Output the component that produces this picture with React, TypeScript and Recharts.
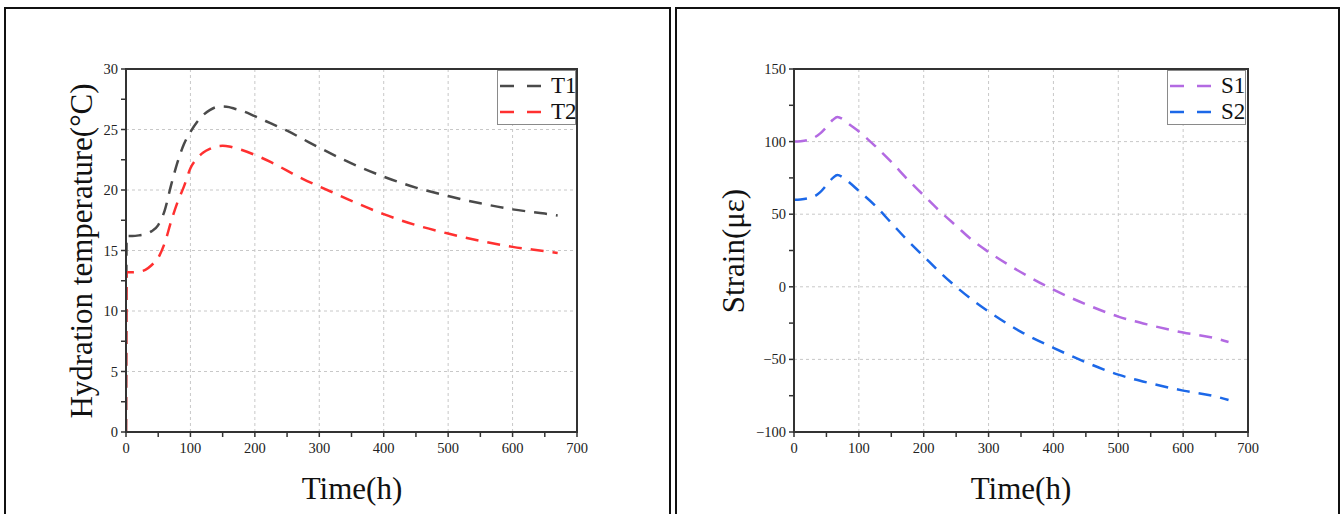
import React from 'react';
import { LineChart, Line, XAxis, YAxis, CartesianGrid, ReferenceArea } from 'recharts';

// ---------- Data ----------
const timeT = [0, 1, 10, 20, 30, 40, 50, 60, 70, 80, 90, 100, 110, 120, 130, 140, 150, 160, 170, 180, 200, 225, 250, 275, 300, 350, 400, 450, 500, 550, 600, 650, 670];
const T1 = [0, 16.2, 16.2, 16.25, 16.35, 16.6, 17.1, 18.3, 20.4, 22.3, 23.8, 24.8, 25.6, 26.2, 26.6, 26.85, 26.9, 26.85, 26.7, 26.55, 26.1, 25.5, 24.9, 24.2, 23.5, 22.2, 21.1, 20.2, 19.5, 18.9, 18.4, 18.05, 17.9];
const T2 = [0, 13.2, 13.2, 13.25, 13.4, 13.8, 14.4, 15.6, 17.4, 19.0, 20.3, 21.8, 22.6, 23.1, 23.4, 23.6, 23.65, 23.6, 23.45, 23.3, 22.9, 22.3, 21.6, 20.9, 20.3, 19.1, 18.0, 17.1, 16.4, 15.8, 15.3, 14.95, 14.8];

const timeS = [0, 10, 20, 30, 40, 50, 60, 67, 75, 85, 100, 125, 150, 175, 200, 225, 250, 275, 300, 350, 400, 450, 500, 550, 600, 650, 670];
const S1 = [100, 100.3, 101, 102.5, 105.5, 110, 115, 117, 115.5, 112, 107, 97, 86, 74, 63, 52, 42, 32, 24, 10, -2, -12, -20.5, -26.5, -31.5, -35.5, -38];
const S2 = [60, 60.2, 60.8, 62, 65, 70, 75, 77, 75.5, 72, 66, 56, 44, 32, 21, 10, 0, -9, -17, -31, -42, -52, -60.5, -66.5, -71.5, -75.5, -78];

const xTicks = [0, 50, 100, 150, 200, 250, 300, 350, 400, 450, 500, 550, 600, 650, 700];
const xGrid = [100, 200, 300, 400, 500, 600];
const tTicks = [0, 2.5, 5, 7.5, 10, 12.5, 15, 17.5, 20, 22.5, 25, 27.5, 30];
const tGrid = [5, 10, 15, 20, 25];
const sTicks = [-100, -75, -50, -25, 0, 25, 50, 75, 100, 125, 150];
const sGrid = [-50, 0, 50, 100];

const tSeries = [
  { key: 'T1', name: 'T1', color: '#4a4a4a', values: T1 },
  { key: 'T2', name: 'T2', color: '#ff3030', values: T2 },
];
const sSeries = [
  { key: 'S1', name: 'S1', color: '#b36ae2', values: S1 },
  { key: 'S2', name: 'S2', color: '#1c68e8', values: S2 },
];

const tData = timeT.map((t, i) => ({ t, T1: T1[i], T2: T2[i] }));
const sData = timeS.map((t, i) => ({ t, S1: S1[i], S2: S2[i] }));

const FONT = '"Liberation Serif", "Times New Roman", serif';
const axisLine = { stroke: '#333', strokeWidth: 2 };
const tickLine = { stroke: '#333', strokeWidth: 1.5 };

const fmtX = (v: number) => (v % 100 === 0 ? String(v) : '');
const fmtT = (v: number) => (v % 5 === 0 ? String(v) : '');
const fmtS = (v: number) => (v % 50 === 0 ? (v < 0 ? '\u2212' + Math.abs(v) : String(v)) : '');

const makeXTick = (fmt: (v: number) => string) => (props: any) => {
  const { x, y, payload } = props;
  const label = fmt(payload.value);
  if (!label) return <g />;
  return (
    <text x={x} y={y} dy="0.8em" textAnchor="middle" fill="#222" fontSize={14.5} fontFamily={FONT} style={{ fontFamily: FONT }}>{label}</text>
  );
};
const makeYTick = (fmt: (v: number) => string) => (props: any) => {
  const { x, y, payload } = props;
  const label = fmt(payload.value);
  if (!label) return <g />;
  return (
    <text x={x} y={y} dy="0.35em" textAnchor="end" fill="#222" fontSize={14.5} fontFamily={FONT} style={{ fontFamily: FONT }}>{label}</text>
  );
};

function LegendBox({ items, left, top }: { items: { name: string; color: string }[]; left: number; top: number }) {
  return (
    <div style={{ position: 'absolute', left, top, width: 79, height: 55, border: '1px solid #8a8a8a', background: '#fff', boxSizing: 'border-box' }}>
      {items.map((it, i) => (
        <div key={it.name} style={{ position: 'absolute', left: 0, top: 2 + i * 26, height: 26, width: 79 }}>
          <svg width={44} height={26} style={{ position: 'absolute', left: 1, top: 0 }}>
            <line x1={1} y1={13} x2={44} y2={13} stroke={it.color} strokeWidth={2.5} strokeDasharray="14 13" />
          </svg>
          <span style={{ position: 'absolute', left: 53, top: 0, lineHeight: '26px', fontSize: 23, fontFamily: FONT, color: '#111' }}>{it.name}</span>
        </div>
      ))}
    </div>
  );
}

function Title({ text, cx, cy, rotate }: { text: string; cx: number; cy: number; rotate?: boolean }) {
  return (
    <div style={{ position: 'absolute', left: cx, top: cy, transform: `translate(-50%, -50%)${rotate ? ' rotate(-90deg)' : ''}`, whiteSpace: 'nowrap', fontSize: 31, lineHeight: 1, fontFamily: FONT, color: '#111' }}>
      {text}
    </div>
  );
}

export default function App() {
  return (
    <div style={{ position: 'absolute', left: 0, top: 0, width: 1342, height: 514, overflow: 'hidden', background: '#fff', fontFamily: FONT }}>
      {/* panel frames */}
      <div style={{ position: 'absolute', left: 4, top: 7, width: 667, height: 520, border: '2px solid #111', boxSizing: 'border-box' }} />
      <div style={{ position: 'absolute', left: 675, top: 7, width: 665, height: 520, border: '2px solid #111', boxSizing: 'border-box' }} />

      {/* left chart */}
      <div style={{ position: 'absolute', left: 0, top: 0 }}>
        <LineChart width={671} height={514} data={tData} margin={{ top: 69, right: 94, bottom: 0, left: 0 }}>
          <CartesianGrid stroke="#c8c8c8" strokeDasharray="3 3" verticalValues={xGrid} horizontalValues={tGrid} />
          <XAxis dataKey="t" type="number" domain={[0, 700]} ticks={xTicks} interval={0} height={82} tick={makeXTick(fmtX)} axisLine={axisLine} tickLine={tickLine} tickSize={5} tickMargin={4} allowDataOverflow />
          <YAxis type="number" domain={[0, 30]} ticks={tTicks} interval={0} width={126} tick={makeYTick(fmtT)} axisLine={axisLine} tickLine={tickLine} tickSize={5} tickMargin={3} allowDataOverflow />
          <ReferenceArea x1={0} x2={700} y1={0} y2={30} fill="none" stroke="#333" strokeWidth={2} ifOverflow="visible" />
          {tSeries.map((s) => (
            <Line key={s.key} dataKey={s.key} name={s.name} type="monotone" stroke={s.color} strokeWidth={2.5} strokeDasharray="13 9" dot={false} isAnimationActive={false} />
          ))}
        </LineChart>
      </div>

      {/* right chart */}
      <div style={{ position: 'absolute', left: 675, top: 0 }}>
        <LineChart width={665} height={514} data={sData} margin={{ top: 69, right: 92, bottom: 0, left: 0 }}>
          <CartesianGrid stroke="#c8c8c8" strokeDasharray="3 3" verticalValues={xGrid} horizontalValues={sGrid} />
          <XAxis dataKey="t" type="number" domain={[0, 700]} ticks={xTicks} interval={0} height={82} tick={makeXTick(fmtX)} axisLine={axisLine} tickLine={tickLine} tickSize={5} tickMargin={4} allowDataOverflow />
          <YAxis type="number" domain={[-100, 150]} ticks={sTicks} interval={0} width={119} tick={makeYTick(fmtS)} axisLine={axisLine} tickLine={tickLine} tickSize={5} tickMargin={3} allowDataOverflow />
          <ReferenceArea x1={0} x2={700} y1={-100} y2={150} fill="none" stroke="#333" strokeWidth={2} ifOverflow="visible" />
          {sSeries.map((s) => (
            <Line key={s.key} dataKey={s.key} name={s.name} type="monotone" stroke={s.color} strokeWidth={2.5} strokeDasharray="13 9" dot={false} isAnimationActive={false} />
          ))}
        </LineChart>
      </div>

      <LegendBox items={tSeries} left={497} top={70} />
      <LegendBox items={sSeries} left={1167} top={70} />

      <Title text="Hydration temperature(°C)" cx={81} cy={251} rotate />
      <Title text="Time(h)" cx={352} cy={488} />
      <Title text="Strain(με)" cx={733} cy={251} rotate />
      <Title text="Time(h)" cx={1021} cy={488} />
    </div>
  );
}
